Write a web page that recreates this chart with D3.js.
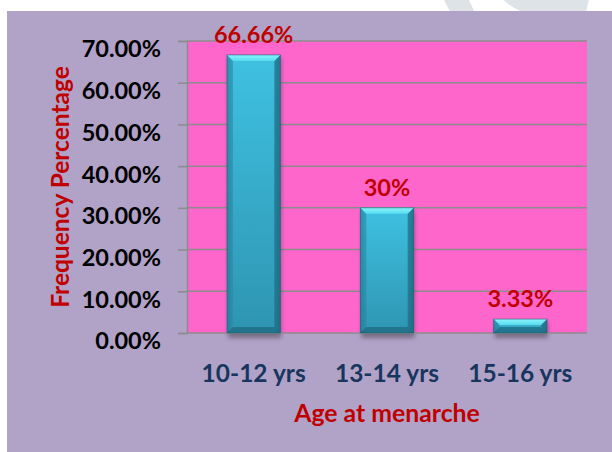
<!DOCTYPE html>
<html><head><meta charset="utf-8">
<script src="https://cdn.jsdelivr.net/npm/d3@7"></script>
<style>
html,body{margin:0;padding:0;background:#fff;}
svg{display:block;}
text{font-family:Lato,"Open Sans",sans-serif;font-weight:bold;}
</style></head>
<body>
<svg id="c" width="612" height="452"></svg>
<script>
const categories = ["10-12 yrs", "13-14 yrs", "15-16 yrs"];
const values = [66.66, 30, 3.33];
const valueLabels = ["66.66%", "30%", "3.33%"];
const yTicks = [0, 10, 20, 30, 40, 50, 60, 70];
const yTickLabels = ["0.00%", "10.00%", "20.00%", "30.00%", "40.00%", "50.00%", "60.00%", "70.00%"];
const xTitle = "Age at menarche";
const yTitle = "Frequency Percentage";

const svg = d3.select("#c");
const W = 612, H = 452;
const plot = {left: 187, right: 587, top: 41, bottom: 333};

// background
svg.append("rect").attr("width", W).attr("height", H).attr("fill", "#fff");
// faint watermark at top
const wm = svg.append("g").attr("fill", "none").attr("stroke", "#dde3e7").attr("stroke-width", 22);
wm.append("path").attr("d", "M430,-40 Q455,-10 470,30");
wm.append("path").attr("d", "M500,-20 Q530,20 575,-5");
wm.append("path").attr("d", "M585,-30 L570,30");

svg.append("rect").attr("x", 7).attr("y", 11).attr("width", W - 7).attr("height", H - 11).attr("fill", "#b1a2c8");

const defs = svg.append("defs");
const g1 = defs.append("linearGradient").attr("id", "body").attr("x1", 0).attr("y1", 0).attr("x2", 0).attr("y2", 1);
g1.append("stop").attr("offset", "0%").attr("stop-color", "#3fc1e1");
g1.append("stop").attr("offset", "100%").attr("stop-color", "#2e95b2");
const g2 = defs.append("linearGradient").attr("id", "side").attr("x1", 0).attr("y1", 0).attr("x2", 1).attr("y2", 0);
g2.append("stop").attr("offset", "0%").attr("stop-color", "#000").attr("stop-opacity", 0.22);
g2.append("stop").attr("offset", "12%").attr("stop-color", "#000").attr("stop-opacity", 0.0);
g2.append("stop").attr("offset", "88%").attr("stop-color", "#000").attr("stop-opacity", 0.0);
g2.append("stop").attr("offset", "100%").attr("stop-color", "#000").attr("stop-opacity", 0.28);
const g3 = defs.append("linearGradient").attr("id", "topbev").attr("x1", 0).attr("y1", 0).attr("x2", 0).attr("y2", 1);
g3.append("stop").attr("offset", "0%").attr("stop-color", "#8af4fb");
g3.append("stop").attr("offset", "100%").attr("stop-color", "#55dcef");
const blur = defs.append("filter").attr("id", "shadow").attr("x", "-20%").attr("y", "-20%").attr("width", "140%").attr("height", "140%");
blur.append("feGaussianBlur").attr("stdDeviation", 2);

const x = d3.scaleBand().domain(categories).range([plot.left, plot.right]).paddingInner(0.6).paddingOuter(0.3);
const y = d3.scaleLinear().domain([0, 70]).range([plot.bottom, plot.top]);

// plot area
svg.append("rect").attr("x", plot.left).attr("y", plot.top)
  .attr("width", plot.right - plot.left).attr("height", plot.bottom - plot.top).attr("fill", "#ff66cc");

// gridlines
svg.append("g").selectAll("line").data(yTicks.filter(d => d > 0)).join("line")
  .attr("x1", plot.left).attr("x2", plot.right)
  .attr("y1", d => y(d)).attr("y2", d => y(d))
  .attr("stroke", "#8c8c8c").attr("stroke-width", 1.5);

// y axis
const yAxis = d3.axisLeft(y).tickValues(yTicks).tickSize(9).tickPadding(0).tickFormat((d, i) => yTickLabels[i]);
const ya = svg.append("g").attr("transform", `translate(${plot.left},0)`).call(yAxis);
ya.select(".domain").attr("stroke", "#8c8c8c").attr("stroke-width", 1.5);
ya.selectAll(".tick line").attr("stroke", "#8c8c8c").attr("stroke-width", 1.5);
ya.selectAll(".tick text").attr("x", -26).attr("dy", "0.85em").attr("y", -4)
  .attr("fill", "#000").style("font-size", "23.5px").style("font-family", "Lato").style("font-weight", "bold");

// shadows
svg.append("g").selectAll("rect").data(values).join("rect")
  .attr("x", (d, i) => x(categories[i]) + 1)
  .attr("y", d => y(d) + 3)
  .attr("width", x.bandwidth())
  .attr("height", d => plot.bottom - y(d) + 2)
  .attr("fill", "#333").attr("opacity", 0.45).attr("filter", "url(#shadow)");

// x axis line
svg.append("line").attr("x1", plot.left).attr("x2", plot.right)
  .attr("y1", plot.bottom).attr("y2", plot.bottom)
  .attr("stroke", "#8c8c8c").attr("stroke-width", 1.5);

// bars with bevel
const bars = svg.append("g").selectAll("g").data(values).join("g");
bars.each(function(d, i) {
  const g = d3.select(this);
  const x0 = x(categories[i]), w = x.bandwidth();
  const y0 = y(d), y1 = plot.bottom, h = y1 - y0;
  const b = Math.min(6, h / 2);
  g.append("rect").attr("x", x0).attr("y", y0).attr("width", w).attr("height", h).attr("fill", "url(#body)");
  g.append("rect").attr("x", x0).attr("y", y0).attr("width", w).attr("height", h).attr("fill", "url(#side)");
  g.append("path").attr("d", `M${x0},${y0}L${x0 + b},${y0 + b}L${x0 + b},${y1 - b}L${x0},${y1}Z`)
    .attr("fill", "#2a8ba8").attr("opacity", 0.55);
  g.append("path").attr("d", `M${x0 + w},${y0}L${x0 + w - b},${y0 + b}L${x0 + w - b},${y1 - b}L${x0 + w},${y1}Z`)
    .attr("fill", "#1f6f86").attr("opacity", 0.7);
  g.append("path").attr("d", `M${x0},${y1}L${x0 + b},${y1 - b}L${x0 + w - b},${y1 - b}L${x0 + w},${y1}Z`)
    .attr("fill", "#1f6a80").attr("opacity", 0.75);
  g.append("path").attr("d", `M${x0},${y0}L${x0 + w},${y0}L${x0 + w - b},${y0 + b}L${x0 + b},${y0 + b}Z`)
    .attr("fill", "url(#topbev)");
  g.append("rect").attr("x", x0).attr("y", y0).attr("width", w).attr("height", h)
    .attr("fill", "none").attr("stroke", "#1d5f73").attr("stroke-width", 0.8).attr("opacity", 0.7);
});

// value labels
svg.append("g").selectAll("text").data(values).join("text")
  .attr("x", (d, i) => x(categories[i]) + x.bandwidth() / 2)
  .attr("y", d => y(d) - 12)
  .attr("text-anchor", "middle").attr("fill", "#c00000")
  .style("font-size", "23.5px")
  .text((d, i) => valueLabels[i]);

// x tick labels
svg.append("g").selectAll("text").data(categories).join("text")
  .attr("x", d => x(d) + x.bandwidth() / 2)
  .attr("y", 382)
  .attr("text-anchor", "middle").attr("fill", "#17365d")
  .style("font-size", "24.5px")
  .text(d => d);

// axis titles
svg.append("text").attr("x", (plot.left + plot.right) / 2).attr("y", 422)
  .attr("text-anchor", "middle").attr("fill", "#c00000").style("font-size", "24.8px").text(xTitle);
svg.append("text").attr("transform", `translate(69,${(plot.top + plot.bottom) / 2}) rotate(-90)`)
  .attr("text-anchor", "middle").attr("fill", "#c00000").style("font-size", "24.5px").text(yTitle);
</script>
</body></html>
